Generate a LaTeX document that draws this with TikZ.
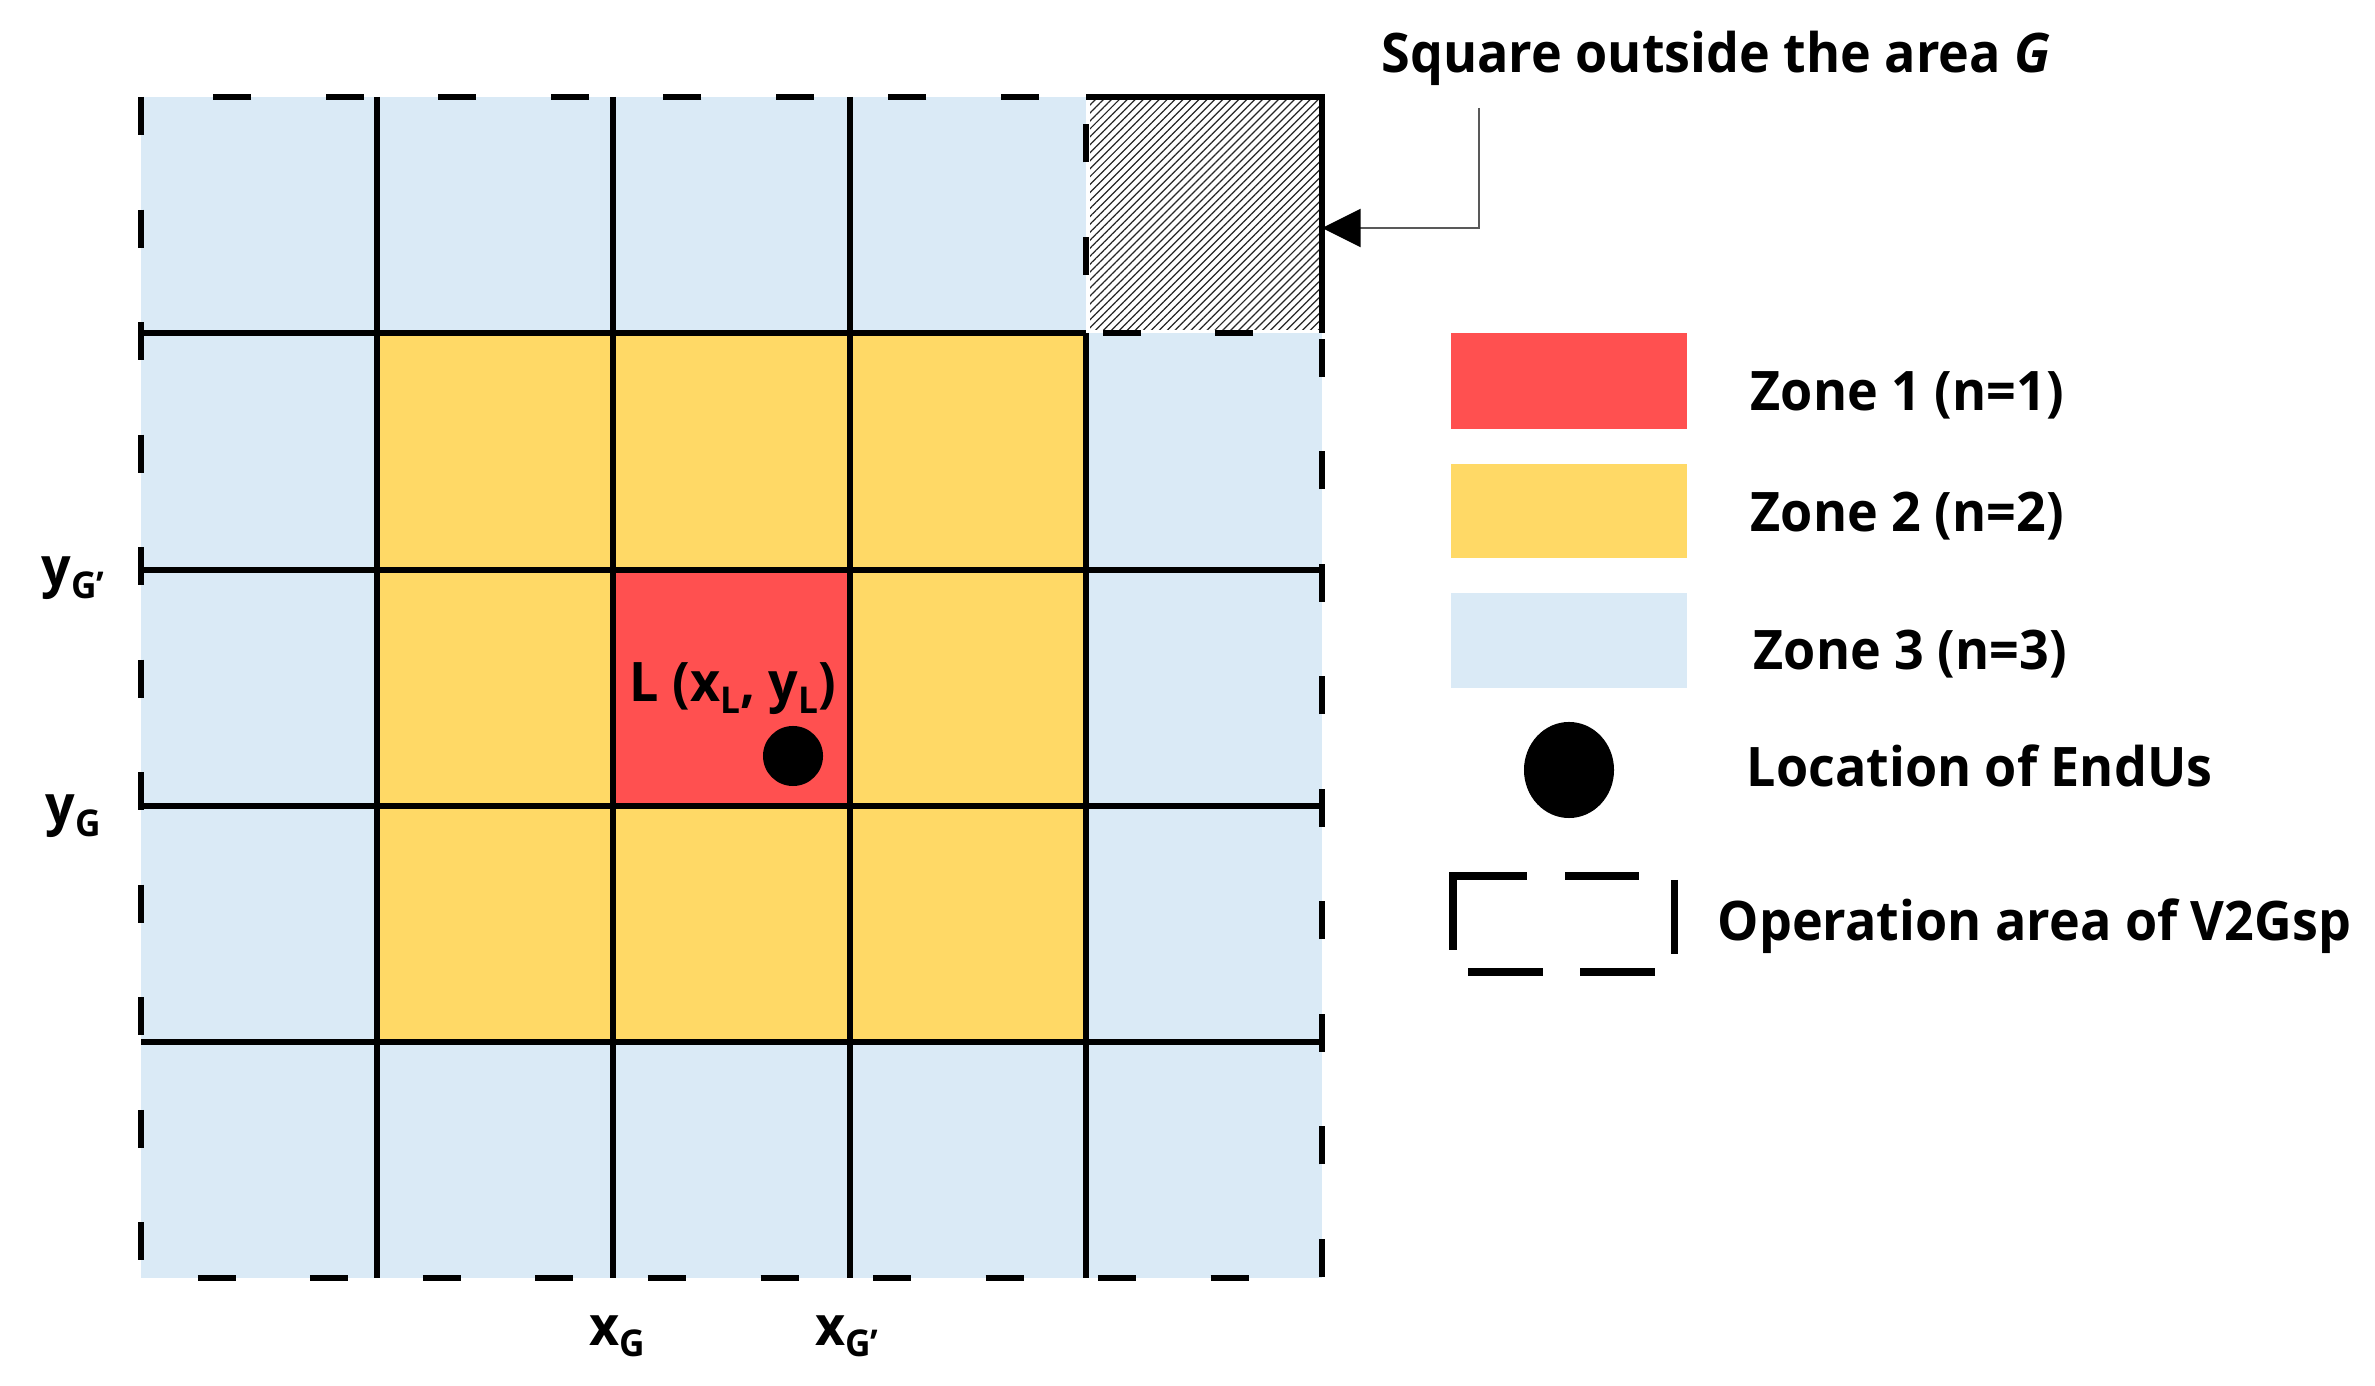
\documentclass[tikz,border=0pt]{standalone}
\usepackage{fontspec}
\setmainfont{Open Sans}[FakeStretch=0.955]
\usetikzlibrary{patterns.meta,arrows.meta,shapes.geometric}
\definecolor{zblue}{RGB}{218,234,246}
\definecolor{zyellow}{RGB}{255,217,102}
\definecolor{zred}{RGB}{255,80,80}
\newcommand{\lsub}[1]{\raisebox{-0.22em}{\fontsize{10.5}{10.5}\selectfont #1}}
\begin{document}
\begin{tikzpicture}[x=0.01cm,y=-0.01cm,
  gridline/.style={line width=1.7pt, black},
  border/.style={line width=1.7pt, black, dash pattern=on 10.8pt off 21.2pt},
  lbl/.style={font=\fontsize{15.5}{15.5}\selectfont\bfseries, inner sep=0pt},
  leglbl/.style={lbl, anchor=base west},
  legdash/.style={line width=2pt, black},
  pointer/.style={line width=0.7pt, black!65, -{Triangle[length=11pt,width=10.8pt,color=black]}},
  dot/.style={circle, fill=black, inner sep=0pt, minimum size=0.6cm}]
\useasboundingbox (0,0) rectangle (2375,1386);
% zone fills
\fill[zblue] (141,97) rectangle (1322,1278);
\fill[zyellow] (377,333) rectangle (1086,1042);
\fill[zred] (613,570) rectangle (850,806);
% square outside area G
\fill[white] (1086,97) rectangle (1322,333);
\fill[pattern={Lines[angle=45,distance=1.6pt,line width=0.35pt]}, pattern color=black!85] (1090,100) rectangle (1322,330);
% grid
\foreach \gx in {377,613,850} \draw[gridline] (\gx,97) -- (\gx,1278);
\draw[gridline] (1086,333) -- (1086,1278);
\draw[gridline] (141,333) -- (1086,333);
\foreach \gy in {570,806,1042} \draw[gridline] (141,\gy) -- (1322,\gy);
\draw[gridline] (1086,97) -- (1322,97) -- (1322,333);
% operation area border
\draw[border] (141,97) -- (141,1278) -- (1322,1278) -- (1322,333) -- (1086,333) -- (1086,97) -- cycle;
% location
\node[dot] (endus) at (793,756) {};
\node[lbl, anchor=base] (Llbl) at (733,702) {L (x\lsub{L}, y\lsub{L})};
% axis labels
\node[lbl, anchor=base] (ygp) at (73,587) {y\lsub{G’}};
\node[lbl, anchor=base] (yg) at (73,825) {y\lsub{G}};
\node[lbl, anchor=base] (xg) at (617,1345) {x\lsub{G}};
\node[lbl, anchor=base] (xgp) at (847,1345) {x\lsub{G’}};
% title and pointer
\node[lbl, anchor=base] (title) at (1716,73) {Square outside the area \textit{G}};
\coordinate (abend) at (1479,108);
\coordinate (atip) at (1322,228);
\draw[pointer] (abend) |- (atip);
% legend
\fill[zred] (1451,333) rectangle (1687,429);
\fill[zyellow] (1451,464) rectangle (1687,558);
\fill[zblue] (1451,593) rectangle (1687,688);
\node[fill=black, ellipse, inner sep=0pt, minimum width=0.9cm, minimum height=0.96cm] (legdot) at (1569,770) {};
\draw[legdash] (1453,950) -- (1453,876) -- (1527,876);
\draw[legdash] (1565,876) -- (1639,876);
\draw[legdash] (1674,880) -- (1674,954);
\draw[legdash] (1468,972) -- (1543,972);
\draw[legdash] (1580,972) -- (1655,972);
\node[leglbl] (z1) at (1750,411) {Zone 1 (n=1)};
\node[leglbl] (z2) at (1750,532) {Zone 2 (n=2)};
\node[leglbl] (z3) at (1753,670) {Zone 3 (n=3)};
\node[leglbl] (loc) at (1746,787) {Location of EndUs};
\node[leglbl] (op) at (1717,941) {Operation area of V2Gsp};
\end{tikzpicture}
\end{document}
